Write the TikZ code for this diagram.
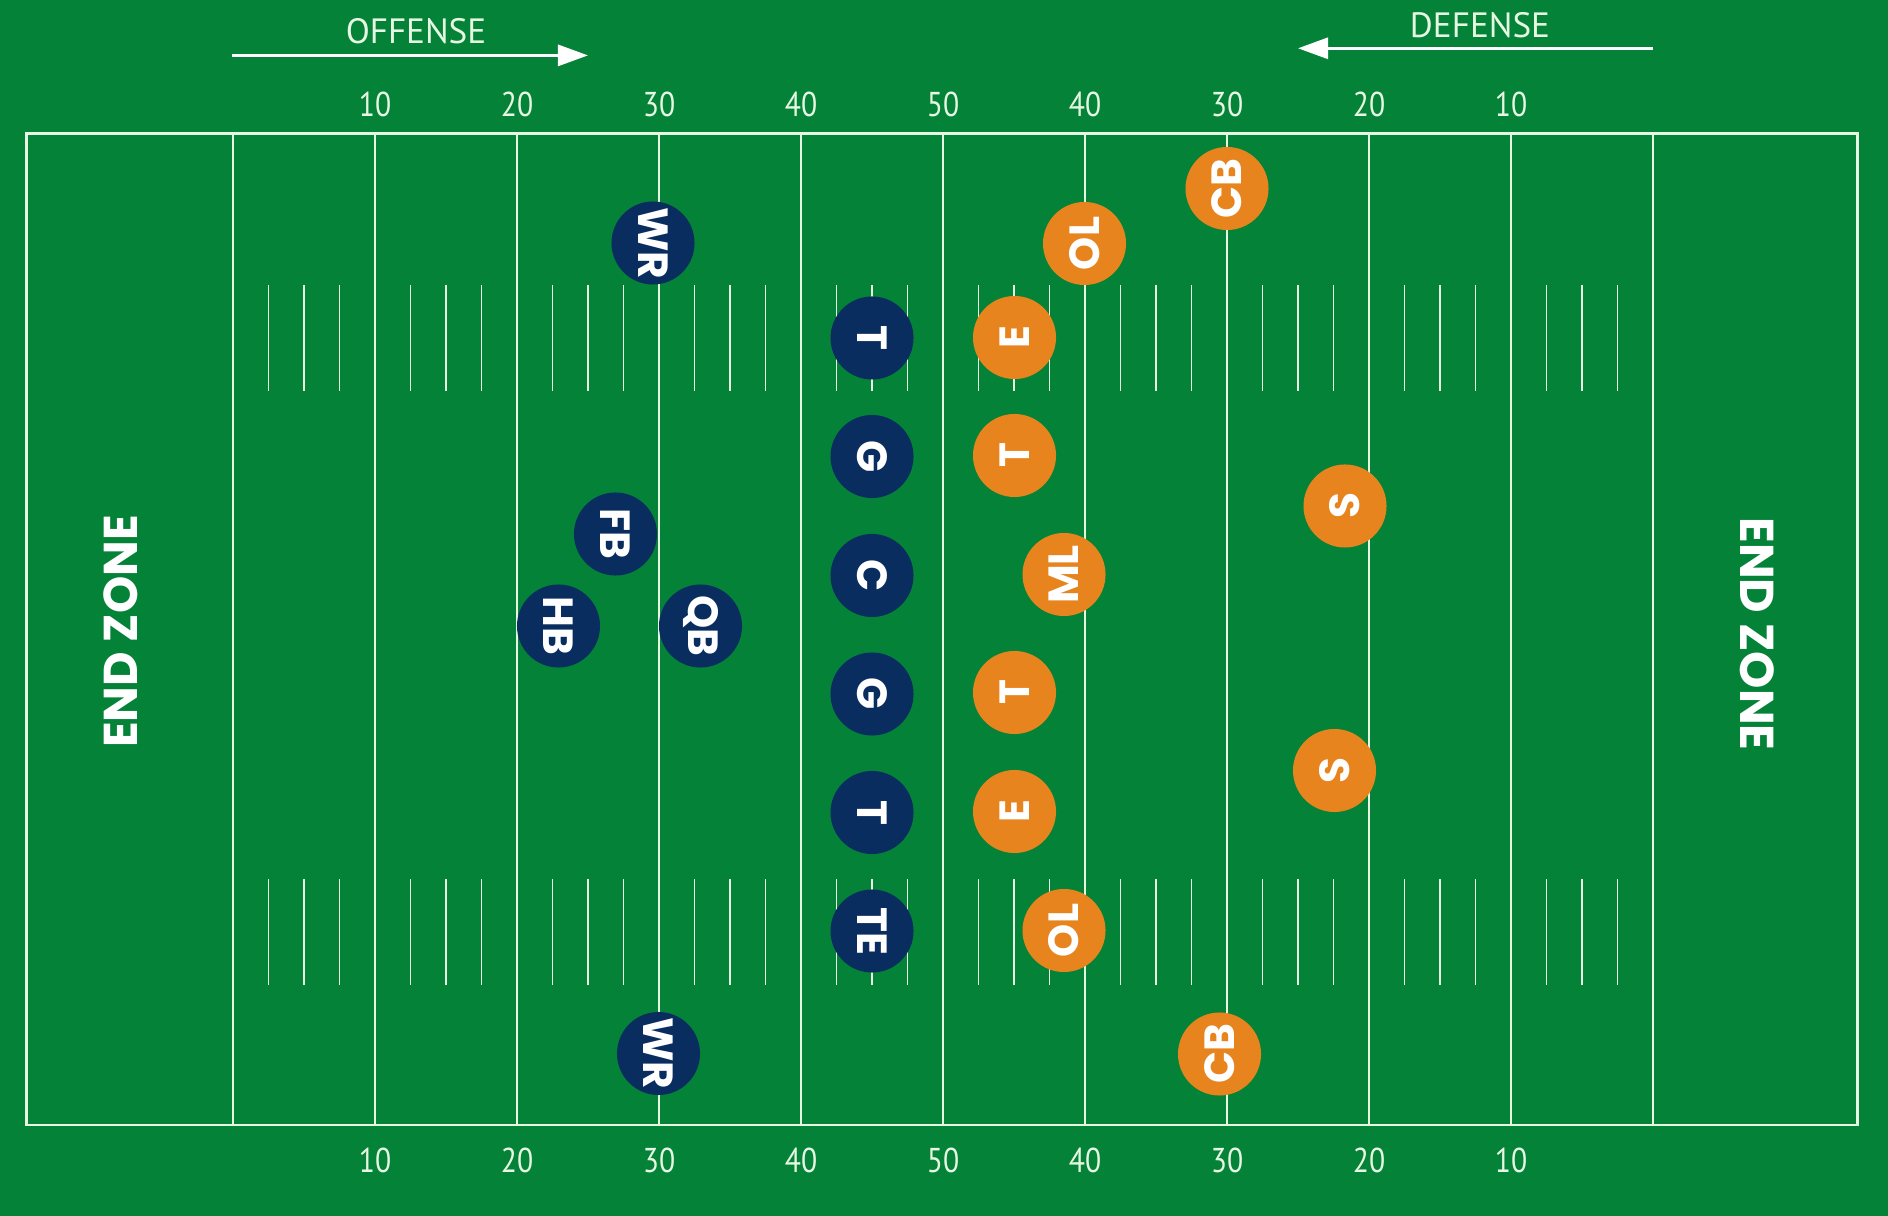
\documentclass[tikz,border=0pt]{standalone}
\usepackage{fontspec}
\setmainfont{PT Sans}
\newfontfamily\markfont[FakeStretch=0.86]{PT Sans}
\newfontfamily\sidefont{PT Sans}
\newfontfamily\tagfont{Poppins}
\usepackage{tikz}
\usetikzlibrary{arrows.meta, positioning}
\definecolor{turf}{RGB}{4,130,56}
\definecolor{chalk}{RGB}{230,247,226}
\definecolor{navy}{RGB}{10,45,95}
\definecolor{pumpkin}{RGB}{232,132,30}
\tikzstyle{offense} = [circle, fill=navy, minimum size=0.83cm, inner sep=0pt, text=white, font=\tagfont\bfseries\fontsize{12}{12}\selectfont, rotate=-90]
\tikzstyle{defense} = [circle, fill=pumpkin, minimum size=0.83cm, inner sep=0pt, text=white, font=\tagfont\bfseries\fontsize{12}{12}\selectfont, rotate=90]
\tikzstyle{yardline} = [draw=chalk, line width=0.4pt]
\tikzstyle{hashmark} = [draw=chalk, line width=0.4pt]
\tikzstyle{yardnum} = [text=chalk, inner sep=0pt, font=\markfont\fontsize{9.8}{10}\selectfont]
\tikzstyle{sidelabel} = [text=chalk, inner sep=0pt, font=\sidefont\fontsize{10}{10}\selectfont]
\tikzstyle{zonelabel} = [text=white, inner sep=0pt, font=\tagfont\bfseries\fontsize{13.5}{14}\selectfont]
\tikzstyle{dirarrow} = [-{Triangle[length=3mm, width=2.1mm]}, draw=white, fill=white, line width=0.85pt]

\begin{document}
\begin{tikzpicture}[x=0.01cm, y=-0.01cm]
    % === BACKGROUND ===
    \fill[turf] (0,0) rectangle (1888,1216);
    \useasboundingbox (0,0) rectangle (1888,1216);

    % === FIELD: border, yard lines, hash marks ===
    \draw[chalk, line width=0.6pt] (26.5,133.5) rectangle (1857.5,1125);
    \foreach \k in {0,...,10}
        \draw[yardline] (233+142*\k,133.5) -- (233+142*\k,1125);
    \foreach \k in {1,...,39} {
        \draw[hashmark] (233+35.5*\k,285) -- ++(0,106.5);
        \draw[hashmark] (233+35.5*\k,879) -- ++(0,105.5);
    }

    % === YARD NUMBERS (top and bottom) ===
    \foreach \k/\n in {1/10,2/20,3/30,4/40,5/50,6/40,7/30,8/20,9/10} {
        \node[yardnum] (topnum\k) at (233+142*\k,104) {\n};
        \node[yardnum] (botnum\k) at (233+142*\k,1160) {\n};
    }

    % === DIRECTION OF PLAY ===
    \node[sidelabel] (offlabel) at (416,31) {OFFENSE};
    \coordinate (offtail) at (232,55.4);
    \coordinate (offhead) at (588,55.4);
    \draw[dirarrow] (offtail) -- (offhead);

    \node[sidelabel] (deflabel) at (1480,25) {DEFENSE};
    \coordinate (deftail) at (1653,48.3);
    \coordinate (defhead) at (1298,48.3);
    \draw[dirarrow] (deftail) -- (defhead);

    % === END ZONES ===
    \node[zonelabel, rotate=90] (leftzone) at (120.5,631.5) {END ZONE};
    \node[zonelabel, rotate=-90] (rightzone) at (1757.5,634) {END ZONE};

    % === OFFENSE (navy) ===
    \node[offense] (wrtop) at (653,243) {WR};
    \node[offense] (ltackle) at (872,338) {T};
    \node[offense] (lguard) at (872,456.5) {G};
    \node[offense] (snap) at (872,575.5) {C};
    \node[offense] (rguard) at (872,694) {G};
    \node[offense] (rtackle) at (872,812.5) {T};
    \node[offense] (tightend) at (872,931) {TE};
    \node[offense] (wrbot) at (658.5,1053.5) {WR};
    \node[offense] (fullback) at (615.5,534) {FB};
    \node[offense] (halfback) at (558.5,626) {HB};
    \node[offense] (qback) at (700.5,626) {QB};

    % === DEFENSE (orange) ===
    \node[defense] (cbtop) at (1227,188.5) {CB};
    \node[defense] (oltop) at (1084.5,243.5) {OL};
    \node[defense] (lend) at (1014.5,337.5) {E};
    \node[defense] (ltack) at (1014.5,455.5) {T};
    \node[defense] (mlb) at (1064,574.5) {ML};
    \node[defense] (rtack) at (1014.5,692.5) {T};
    \node[defense] (rend) at (1014.5,811.5) {E};
    \node[defense] (olbot) at (1064,930.5) {OL};
    \node[defense] (cbbot) at (1219.5,1054) {CB};
    \node[defense] (stop) at (1345,506) {S};
    \node[defense] (sbot) at (1334.5,770.5) {S};
\end{tikzpicture}
\end{document}
